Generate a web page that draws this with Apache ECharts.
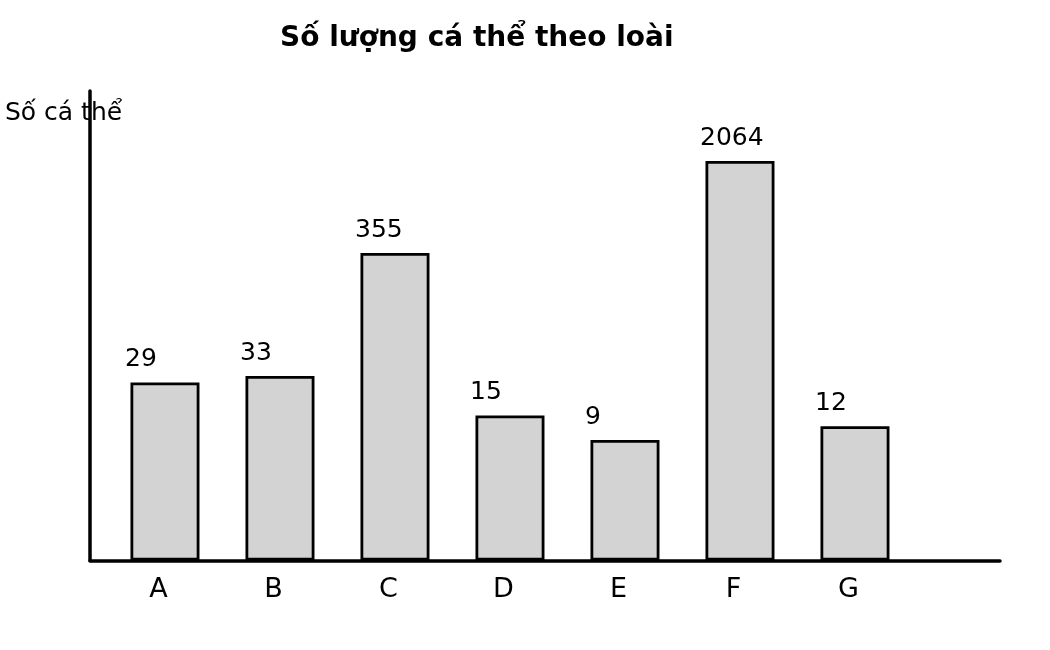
<!DOCTYPE html>
<html>
<head>
<meta charset="utf-8">
<script src="https://cdn.jsdelivr.net/npm/echarts@6/dist/echarts.min.js"></script>
<style>html,body{margin:0;padding:0;background:#fff}#c{width:1050px;height:650px}</style>
</head>
<body>
<div id="c"></div>
<script>
const categories = ['A', 'B', 'C', 'D', 'E', 'F', 'G'];
const counts = [29, 33, 355, 15, 9, 2064, 12];
const titleText = 'Số lượng cá thể theo loài';
const yName = 'Số cá thể';

const chart = echarts.init(document.getElementById('c'), null, {renderer: 'canvas'});
const font = 'DejaVu Sans';
chart.setOption({
  animation: false,
  backgroundColor: '#ffffff',
  title: [
    {text: titleText, left: 275, top: 20, textStyle: {fontFamily: font, fontSize: 28, fontWeight: 'bold', color: '#000'}},
    {text: yName, left: 0, top: 96, z: 0, textStyle: {fontFamily: font, fontSize: 25, fontWeight: 'normal', color: '#000'}}
  ],
  grid: {left: 90, right: 50, top: 91, bottom: 89.5, containLabel: false},
  xAxis: {
    type: 'value',
    min: -0.652,
    max: 7.261,
    splitLine: {show: false},
    axisLine: {show: true, onZero: false, lineStyle: {color: '#000', width: 3.5}},
    axisTick: {show: false},
    axisLabel: {
      customValues: [0, 1, 2, 3, 4, 5, 6],
      formatter: v => categories[Math.round(v)] ?? '',
      fontFamily: font, fontSize: 27, color: '#000', margin: 16,
      padding: [0, 13, 0, 0]
    }
  },
  yAxis: {
    type: 'log',
    logBase: 10,
    min: 1,
    max: 7870,
    splitLine: {show: false},
    axisLine: {show: true, onZero: false, lineStyle: {color: '#000', width: 3.5}},
    axisTick: {show: false},
    axisLabel: {show: false}
  },
  series: [{
    type: 'bar',
    barWidth: 69,
    data: counts.map((v, i) => [i, v + 1]),
    itemStyle: {color: '#d3d3d3', borderColor: '#000', borderWidth: 2.8},
    label: {
      show: true,
      position: 'top',
      distance: 10,
      align: 'left',
      offset: [-40, 0],
      formatter: p => String(counts[p.dataIndex]),
      fontFamily: font, fontSize: 25, color: '#000'
    }
  }]
});
</script>
</body>
</html>
